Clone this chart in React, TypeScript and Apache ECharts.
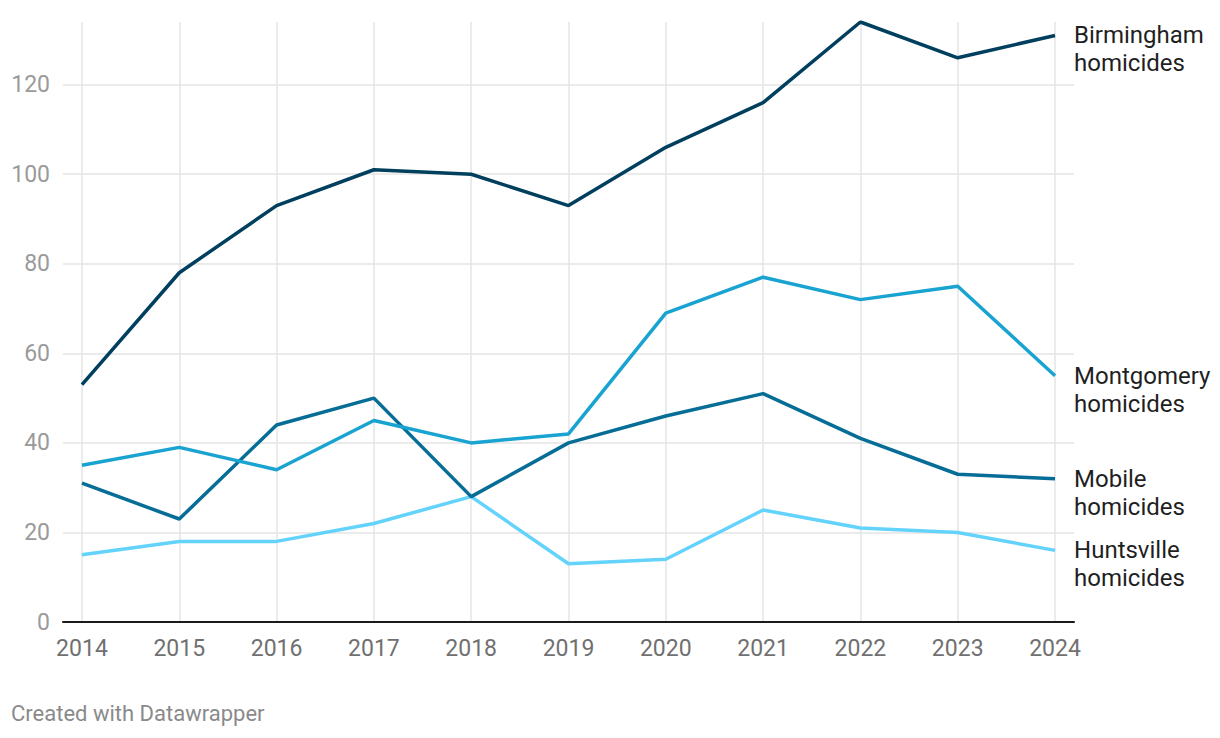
import React, { useEffect, useRef } from "react";
import * as echarts from "echarts";

const years = [2014, 2015, 2016, 2017, 2018, 2019, 2020, 2021, 2022, 2023, 2024];
const yTicks = [0, 20, 40, 60, 80, 100, 120];
const birmingham = [53, 78, 93, 101, 100, 93, 106, 116, 134, 126, 131];
const montgomery = [35, 39, 34, 45, 40, 42, 69, 77, 72, 75, 55];
const mobile = [31, 23, 44, 50, 28, 40, 46, 51, 41, 33, 32];
const huntsville = [15, 18, 18, 22, 28, 13, 14, 25, 21, 20, 16];

const seriesDefs = [
  { name: "Huntsville", label: "Huntsville\nhomicides", data: huntsville, color: "#64d3fb" },
  { name: "Mobile", label: "Mobile\nhomicides", data: mobile, color: "#066d96" },
  { name: "Montgomery", label: "Montgomery\nhomicides", data: montgomery, color: "#19a3d1" },
  { name: "Birmingham", label: "Birmingham\nhomicides", data: birmingham, color: "#003f5e" },
];

const FONT = "Roboto, 'Noto Sans', sans-serif";

export default function App() {
  const ref = useRef<HTMLDivElement>(null);
  useEffect(() => {
    document.body.style.margin = "0";
    if (!ref.current) return;
    const chart = echarts.init(ref.current, undefined, { renderer: "svg" });
    chart.setOption({
      animation: false,
      backgroundColor: "#ffffff",
      textStyle: { fontFamily: FONT },
      grid: { left: 63, right: 146, top: 22, bottom: 116, containLabel: false },
      xAxis: {
        type: "value",
        min: 2013.805,
        max: 2024.195,
        axisLine: { show: true, lineStyle: { color: "#1a1a1a", width: 2 } },
        axisTick: { show: false, customValues: years },
        axisLabel: {
          customValues: years,
          color: "#707070",
          fontSize: 23,
          fontFamily: FONT,
          margin: 15,
          formatter: (v: number) => String(Math.round(v)),
        },
        splitLine: { show: true, lineStyle: { color: "#e4e4e4", width: 1.5 } },
      },
      yAxis: {
        type: "value",
        min: 0,
        max: 134,
        axisLine: { show: false },
        axisTick: { show: false, customValues: yTicks },
        axisLabel: {
          customValues: yTicks,
          color: "#9a9a9a",
          fontSize: 23,
          fontFamily: FONT,
          margin: 13,
          align: "right",
        },
        splitLine: { show: true, lineStyle: { color: "#e4e4e4", width: 1.5 } },
      },
      graphic: [
        {
          type: "text",
          left: 11,
          top: 702,
          style: {
            text: "Created with Datawrapper",
            fill: "#8a8a8a",
            font: `22px ${FONT}`,
          },
        },
      ],
      series: seriesDefs.map((s, i) => ({
        type: "line",
        name: s.name,
        data: s.data.map((v, j) => [years[j], v]),
        symbol: "none",
        z: 3 + i,
        lineStyle: { color: s.color, width: 3.5 },
        itemStyle: { color: s.color },
        endLabel: {
          show: true,
          formatter: () => s.label,
          color: "#1f1f1f",
          fontSize: 24,
          fontFamily: FONT,
          lineHeight: 28,
          distance: 19,
          offset: [0, 14],
        },
      })),
    });
    return () => chart.dispose();
  }, []);
  return <div ref={ref} style={{ width: 1220, height: 738 }} />;
}
